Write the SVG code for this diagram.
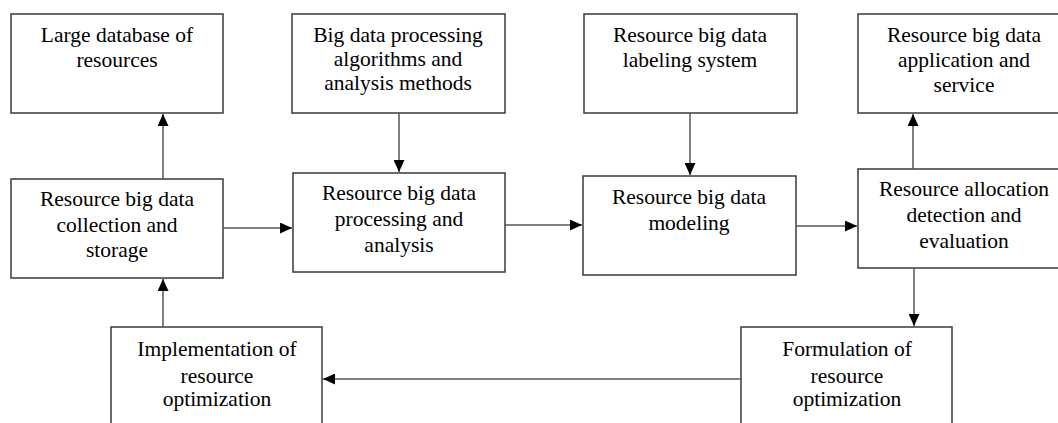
<svg xmlns="http://www.w3.org/2000/svg" width="1058" height="423" viewBox="0 0 1058 423" font-family="Liberation Serif, DejaVu Serif, serif">
<defs>
<marker id="ah" viewBox="0 0 12 11" refX="12" refY="5.5" markerWidth="12" markerHeight="11" markerUnits="userSpaceOnUse" orient="auto">
<path d="M0,0 L12,5.5 L0,11 Z" fill="#000"/>
</marker>
</defs>
<style>
.box{fill:#fff;stroke:#3a3a3a;stroke-width:1.5}
.t{font-size:21.5px;fill:#000;text-anchor:middle}
.c{stroke:#555;stroke-width:1.5;fill:none;marker-end:url(#ah)}
</style>
<rect width="1058" height="423" fill="#fff"/>
<g id="n1"><rect class="box" x="11" y="14" width="212" height="99"/><text class="t" x="117" y="42">Large database of</text><text class="t" x="117" y="67">resources</text></g>
<g id="n2"><rect class="box" x="292" y="14" width="213" height="99"/><text class="t" x="398" y="42">Big data processing</text><text class="t" x="398" y="66">algorithms and</text><text class="t" x="398" y="90">analysis methods</text></g>
<g id="n3"><rect class="box" x="584" y="14" width="213" height="99"/><text class="t" x="690" y="42">Resource big data</text><text class="t" x="690" y="67">labeling system</text></g>
<g id="n4"><rect class="box" x="858" y="14" width="213" height="99"/><text class="t" x="964" y="42">Resource big data</text><text class="t" x="964" y="67">application and</text><text class="t" x="964" y="92">service</text></g>
<g id="n5"><rect class="box" x="11" y="179" width="212" height="99"/><text class="t" x="117" y="206">Resource big data</text><text class="t" x="117" y="232">collection and</text><text class="t" x="117" y="257">storage</text></g>
<g id="n6"><rect class="box" x="293" y="173" width="212" height="99"/><text class="t" x="399" y="200">Resource big data</text><text class="t" x="399" y="226">processing and</text><text class="t" x="399" y="252">analysis</text></g>
<g id="n7"><rect class="box" x="583" y="176" width="213" height="99"/><text class="t" x="689" y="204">Resource big data</text><text class="t" x="689" y="230">modeling</text></g>
<g id="n8"><rect class="box" x="858" y="169" width="213" height="99"/><text class="t" x="964" y="196">Resource allocation</text><text class="t" x="964" y="222">detection and</text><text class="t" x="964" y="248">evaluation</text></g>
<g id="n9"><rect class="box" x="111" y="327" width="211" height="101"/><text class="t" x="217" y="356">Implementation of</text><text class="t" x="217" y="383">resource</text><text class="t" x="217" y="406">optimization</text></g>
<g id="n10"><rect class="box" x="741" y="327" width="211" height="101"/><text class="t" x="847" y="356">Formulation of</text><text class="t" x="847" y="383">resource</text><text class="t" x="847" y="406">optimization</text></g>
<g id="connectors">
<line class="c" x1="163" y1="179" x2="163" y2="114"/>
<line class="c" x1="399" y1="113" x2="399" y2="172"/>
<line class="c" x1="690" y1="113" x2="690" y2="175"/>
<line class="c" x1="913" y1="169" x2="913" y2="114"/>
<line class="c" x1="223" y1="228" x2="292" y2="228"/>
<line class="c" x1="505" y1="225" x2="582" y2="225"/>
<line class="c" x1="796" y1="226" x2="857" y2="226"/>
<line class="c" x1="914" y1="268" x2="914" y2="326"/>
<line class="c" x1="741" y1="379" x2="323" y2="379"/>
<line class="c" x1="163" y1="327" x2="163" y2="279"/>
</g>
</svg>
